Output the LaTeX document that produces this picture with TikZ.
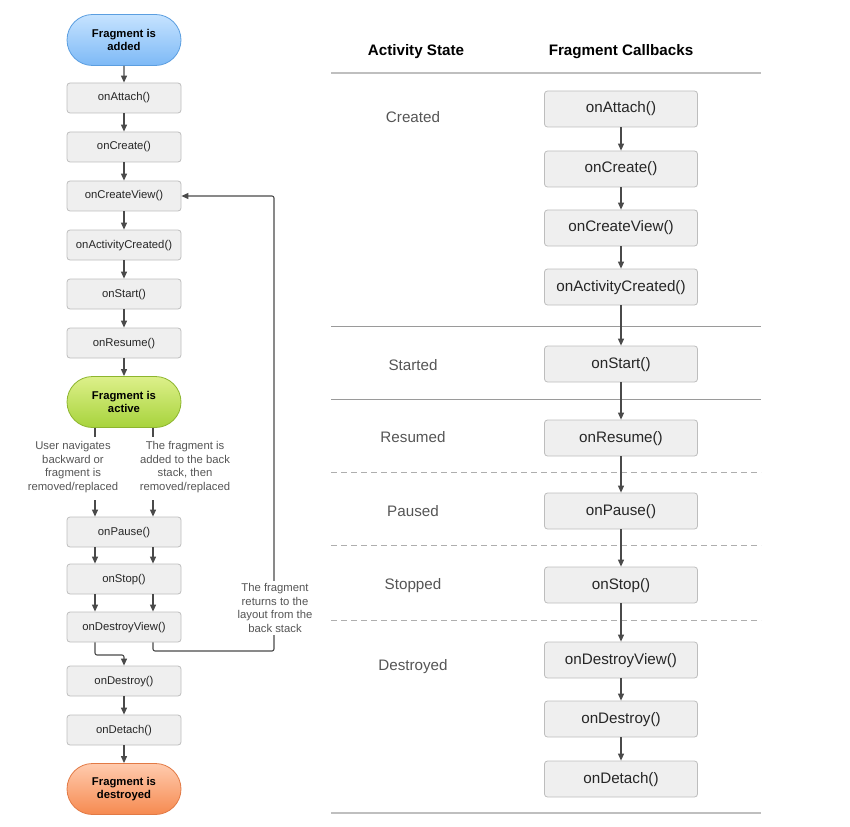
\documentclass[tikz,border=0pt]{standalone}
\usepackage{fontspec}
\setmainfont{Liberation Sans}
\usetikzlibrary{arrows.meta,shapes.misc}

\definecolor{boxfill}{HTML}{EFEFEF}
\definecolor{boxline}{HTML}{BDBDBD}
\definecolor{wire}{HTML}{4A4A4A}
\definecolor{capgray}{HTML}{555555}
\definecolor{rulegray}{HTML}{9A9A9A}
\definecolor{blueline}{HTML}{5B9EE0}
\definecolor{bluetop}{HTML}{C6E3FF}
\definecolor{bluebot}{HTML}{7DB9F6}
\definecolor{greenline}{HTML}{8DB52E}
\definecolor{greentop}{HTML}{DDF08A}
\definecolor{greenbot}{HTML}{A7D33C}
\definecolor{orangeline}{HTML}{E27A45}
\definecolor{orangetop}{HTML}{FFCBAE}
\definecolor{orangebot}{HTML}{F68A50}

\tikzset{
  small/.style={font=\fontsize{11.3}{13.6}\selectfont},
  large/.style={font=\fontsize{15.2}{18}\selectfont},
  lbox/.style={small, draw=boxline, line width=0.8pt, fill=boxfill, rounded corners=3pt,
    minimum width=114pt, minimum height=30pt, inner sep=0pt, text=black!85,
    text height=8.2pt, text depth=2.2pt},
  rbox/.style={large, draw=boxline, line width=0.8pt, fill=boxfill, rounded corners=3pt,
    minimum width=153pt, minimum height=36pt, inner sep=0pt, text=black!85,
    text height=11pt, text depth=3pt},
  pill/.style={rounded rectangle, font=\fontsize{11.3}{13.6}\selectfont\bfseries,
    minimum width=114pt, minimum height=51pt, inner sep=0pt, align=center, line width=0.8pt},
  arr/.style={draw=wire, line width=1.1pt, -{Triangle[length=7pt,width=6pt]}},
  wireline/.style={draw=wire, line width=1.1pt},
  caption/.style={small, text=capgray, align=center},
  state/.style={large, text=capgray},
  head/.style={font=\fontsize{15.2}{18}\selectfont\bfseries},
  solidrule/.style={draw=rulegray, line width=0.9pt},
  thickrule/.style={draw=black!25, line width=2pt},
  dashrule/.style={draw=rulegray!80, line width=0.9pt, dash pattern=on 6pt off 4pt},
}

\begin{document}
\begin{tikzpicture}[x=1pt,y=-1pt]
\useasboundingbox (0,0) rectangle (850,826);

% ---------- left: full fragment lifecycle ----------
\node[pill, draw=blueline, top color=bluetop, bottom color=bluebot] (added) at (124,40) {Fragment is\\added};
\node[lbox] (attach)  at (124,98)  {onAttach()};
\node[lbox] (create)  at (124,147) {onCreate()};
\node[lbox] (cview)   at (124,196) {onCreateView()};
\node[lbox] (acreat)  at (124,245) {onActivityCreated()};
\node[lbox] (start)   at (124,294) {onStart()};
\node[lbox] (resume)  at (124,343) {onResume()};
\node[pill, draw=greenline, top color=greentop, bottom color=greenbot] (active) at (124,402) {Fragment is\\active};
\node[lbox] (pause)   at (124,532) {onPause()};
\node[lbox] (stop)    at (124,579) {onStop()};
\node[lbox] (dview)   at (124,627) {onDestroyView()};
\node[lbox] (destroy) at (124,681) {onDestroy()};
\node[lbox] (detach)  at (124,730) {onDetach()};
\node[pill, draw=orangeline, top color=orangetop, bottom color=orangebot] (gone) at (124,789) {Fragment is\\destroyed};

\coordinate (lx) at (95,0);
\coordinate (rx) at (153,0);

\draw[arr] (added) -- (attach);
\draw[arr] (attach) -- (create);
\draw[arr] (create) -- (cview);
\draw[arr] (cview) -- (acreat);
\draw[arr] (acreat) -- (start);
\draw[arr] (start) -- (resume);
\draw[arr] (resume) -- (active);

% the two exits from the active state
\node[caption] (leftcap)  at (73,467)  {User navigates\\backward or\\fragment is\\removed/replaced};
\node[caption] (rightcap) at (185,467) {The fragment is\\added to the back\\stack, then\\removed/replaced};
\draw[wireline] (active.south -| lx) -- ++(0,9);
\draw[wireline] (active.south -| rx) -- ++(0,9);
\coordinate (lin) at (95,500);
\coordinate (rin) at (153,500);
\draw[arr] (lin) -- (pause.north -| lx);
\draw[arr] (rin) -- (pause.north -| rx);
\draw[arr] (pause.south -| lx) -- (stop.north -| lx);
\draw[arr] (pause.south -| rx) -- (stop.north -| rx);
\draw[arr] (stop.south -| lx) -- (dview.north -| lx);
\draw[arr] (stop.south -| rx) -- (dview.north -| rx);

\coordinate (down) at (95,655);
\draw[arr, rounded corners=2pt] (dview.south -| lx) -- (down) -| (destroy.north);
\draw[arr] (destroy) -- (detach);
\draw[arr] (detach) -- (gone);

% return path from the back stack
\coordinate (ret) at (274,651);
\draw[arr, rounded corners=2pt] (dview.south -| rx) |- (ret) |- (cview.east);
\node[caption, fill=white, inner sep=2pt] (backcap) at (275,608) {The fragment\\returns to the\\layout from the\\back stack};

% ---------- right: activity state vs. fragment callbacks ----------
\node[head] (hstate) at (416,52) {Activity State};
\node[head] (hcall)  at (621,52) {Fragment Callbacks};

\draw[thickrule] (331,73) -- (761,73);
\draw[solidrule] (331,326) -- (761,326);
\draw[solidrule] (331,399) -- (761,399);
\draw[dashrule] (331,472) -- (761,472);
\draw[dashrule] (331,545) -- (761,545);
\draw[dashrule] (331,620) -- (761,620);
\draw[thickrule] (331,813) -- (761,813);

\node[state] (screated)   at (413,117) {Created};
\node[state] (sstarted)   at (413,365) {Started};
\node[state] (sresumed)   at (413,437) {Resumed};
\node[state] (spaused)    at (413,511) {Paused};
\node[state] (sstopped)   at (413,586) {Stopped};
\node[state] (sdestroyed) at (413,667) {Destroyed};

\node[rbox] (Rattach)  at (621,109) {onAttach()};
\node[rbox] (Rcreate)  at (621,169) {onCreate()};
\node[rbox] (Rcview)   at (621,228) {onCreateView()};
\node[rbox] (Racreat)  at (621,287) {onActivityCreated()};
\node[rbox] (Rstart)   at (621,364) {onStart()};
\node[rbox] (Rresume)  at (621,438) {onResume()};
\node[rbox] (Rpause)   at (621,511) {onPause()};
\node[rbox] (Rstop)    at (621,585) {onStop()};
\node[rbox] (Rdview)   at (621,660) {onDestroyView()};
\node[rbox] (Rdestroy) at (621,719) {onDestroy()};
\node[rbox] (Rdetach)  at (621,779) {onDetach()};

\draw[arr] (Rattach) -- (Rcreate);
\draw[arr] (Rcreate) -- (Rcview);
\draw[arr] (Rcview) -- (Racreat);
\draw[arr] (Racreat) -- (Rstart);
\draw[arr] (Rstart) -- (Rresume);
\draw[arr] (Rresume) -- (Rpause);
\draw[arr] (Rpause) -- (Rstop);
\draw[arr] (Rstop) -- (Rdview);
\draw[arr] (Rdview) -- (Rdestroy);
\draw[arr] (Rdestroy) -- (Rdetach);
\end{tikzpicture}
\end{document}
